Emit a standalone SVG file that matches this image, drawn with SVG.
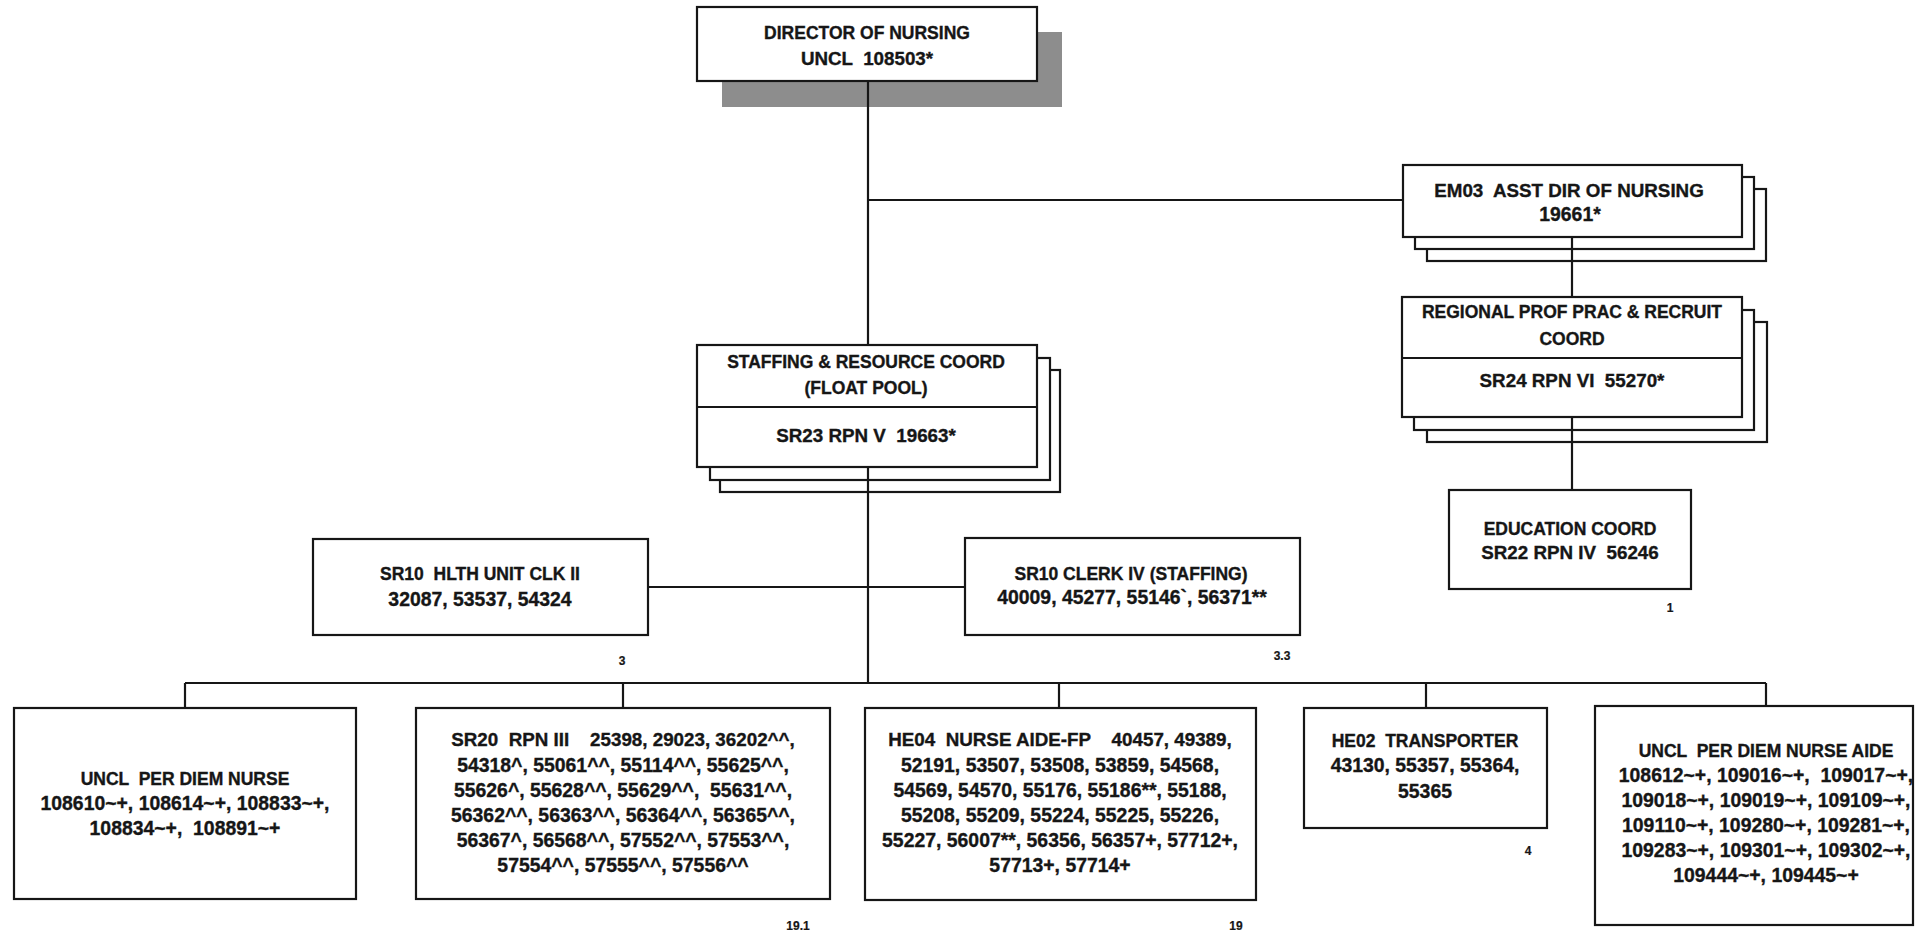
<svg xmlns="http://www.w3.org/2000/svg" width="1916" height="934" viewBox="0 0 1916 934">
<style>
text{font-family:"Liberation Sans",Arial,sans-serif;font-weight:bold;fill:#161616;stroke:#161616;stroke-width:0.35;text-anchor:middle;white-space:pre}
.t{font-size:17.5px}
.m{font-size:18.8px}
.n{font-size:19.4px}
.lbl{font-size:12px;stroke-width:0.2}
.box{fill:#fff;stroke:#161616;stroke-width:2.2}
.div{stroke:#161616;stroke-width:2}
.shadow{fill:#8d8d8d}
#connectors path{fill:none;stroke:#161616;stroke-width:2.2}
</style>
<rect width="1916" height="934" fill="#fff"/>

<g id="director">
<rect class="shadow" x="722" y="32" width="340" height="75"/>
</g>
<g id="staffing-stack">
<rect class="box" x="720" y="370" width="340" height="122"/>
<rect class="box" x="710" y="358" width="340" height="122"/>
</g>
<g id="em03-stack">
<rect class="box" x="1427" y="189" width="339" height="72"/>
<rect class="box" x="1415" y="177" width="339" height="72"/>
</g>
<g id="regional-stack">
<rect class="box" x="1427" y="322" width="340" height="120"/>
<rect class="box" x="1414" y="310" width="340" height="120"/>
</g>

<g id="connectors">
<path d="M868 81V345"/>
<path d="M868 200H1403"/>
<path d="M868 467V683"/>
<path d="M648 587H965"/>
<path d="M1572 237V297"/>
<path d="M1572 417V490"/>
<path d="M185 683H1766"/>
<path d="M185 683V708"/>
<path d="M623 683V708"/>
<path d="M1059 683V708"/>
<path d="M1426 683V708"/>
<path d="M1766 683V706"/>
</g>

<g id="director-main">
<rect class="box" x="697" y="7" width="340" height="74"/>
<text class="t" x="867" y="39">DIRECTOR OF NURSING</text>
<text class="m" x="867" y="65">UNCL  108503*</text>
</g>

<g id="em03">
<rect class="box" x="1403" y="165" width="339" height="72"/>
<text class="m" x="1569" y="197">EM03  ASST DIR OF NURSING</text>
<text class="n" x="1570" y="221">19661*</text>
</g>

<g id="regional">
<rect class="box" x="1402" y="297" width="340" height="120"/>
<line class="div" x1="1402" y1="358" x2="1742" y2="358"/>
<text class="t" x="1572" y="318">REGIONAL PROF PRAC &amp; RECRUIT</text>
<text class="t" x="1572" y="345">COORD</text>
<text class="m" x="1572" y="387">SR24 RPN VI  55270*</text>
</g>

<g id="education">
<rect class="box" x="1449" y="490" width="242" height="99"/>
<text class="t" x="1570" y="535">EDUCATION COORD</text>
<text class="m" x="1570" y="559">SR22 RPN IV  56246</text>
<text class="lbl" x="1670" y="612">1</text>
</g>

<g id="staffing">
<rect class="box" x="697" y="345" width="340" height="122"/>
<line class="div" x1="697" y1="407" x2="1037" y2="407"/>
<text class="t" x="866" y="368">STAFFING &amp; RESOURCE COORD</text>
<text class="t" x="866" y="394">(FLOAT POOL)</text>
<text class="m" x="866" y="442">SR23 RPN V  19663*</text>
</g>

<g id="hlth">
<rect class="box" x="313" y="539" width="335" height="96"/>
<text class="t" x="480" y="580">SR10  HLTH UNIT CLK II</text>
<text class="n" x="480" y="606">32087, 53537, 54324</text>
<text class="lbl" x="622" y="665">3</text>
</g>

<g id="clerk">
<rect class="box" x="965" y="538" width="335" height="97"/>
<text class="t" x="1131" y="580">SR10 CLERK IV (STAFFING)</text>
<text class="n" x="1132" y="604">40009, 45277, 55146`, 56371**</text>
<text class="lbl" x="1282" y="660">3.3</text>
</g>

<g id="per-diem-nurse">
<rect class="box" x="14" y="708" width="342" height="191"/>
<text class="t" x="185" y="785">UNCL  PER DIEM NURSE</text>
<text class="n" x="185" y="810">108610~+, 108614~+, 108833~+,</text>
<text class="n" x="185" y="835">108834~+,  108891~+</text>
</g>

<g id="sr20">
<rect class="box" x="416" y="708" width="414" height="191"/>
<text class="m" x="623" y="746">SR20  RPN III    25398, 29023, 36202^^,</text>
<text class="n" x="623" y="772">54318^, 55061^^, 55114^^, 55625^^,</text>
<text class="n" x="623" y="797">55626^, 55628^^, 55629^^,  55631^^,</text>
<text class="n" x="623" y="822">56362^^, 56363^^, 56364^^, 56365^^,</text>
<text class="n" x="623" y="847">56367^, 56568^^, 57552^^, 57553^^,</text>
<text class="n" x="623" y="872">57554^^, 57555^^, 57556^^</text>
<text class="lbl" x="798" y="930">19.1</text>
</g>

<g id="he04">
<rect class="box" x="865" y="708" width="391" height="192"/>
<text class="m" x="1060" y="746">HE04  NURSE AIDE-FP    40457, 49389,</text>
<text class="n" x="1060" y="772">52191, 53507, 53508, 53859, 54568,</text>
<text class="n" x="1060" y="797">54569, 54570, 55176, 55186**, 55188,</text>
<text class="n" x="1060" y="822">55208, 55209, 55224, 55225, 55226,</text>
<text class="n" x="1060" y="847">55227, 56007**, 56356, 56357+, 57712+,</text>
<text class="n" x="1060" y="872">57713+, 57714+</text>
<text class="lbl" x="1236" y="930">19</text>
</g>

<g id="he02">
<rect class="box" x="1304" y="708" width="243" height="120"/>
<text class="t" x="1425" y="747">HE02  TRANSPORTER</text>
<text class="n" x="1425" y="772">43130, 55357, 55364,</text>
<text class="n" x="1425" y="798">55365</text>
<text class="lbl" x="1528" y="855">4</text>
</g>

<g id="per-diem-aide">
<rect class="box" x="1595" y="706" width="318" height="219"/>
<text class="t" x="1766" y="757">UNCL  PER DIEM NURSE AIDE</text>
<text class="n" x="1766" y="782">108612~+, 109016~+,  109017~+,</text>
<text class="n" x="1766" y="807">109018~+, 109019~+, 109109~+,</text>
<text class="n" x="1766" y="832">109110~+, 109280~+, 109281~+,</text>
<text class="n" x="1766" y="857">109283~+, 109301~+, 109302~+,</text>
<text class="n" x="1766" y="882">109444~+, 109445~+</text>
</g>
</svg>
